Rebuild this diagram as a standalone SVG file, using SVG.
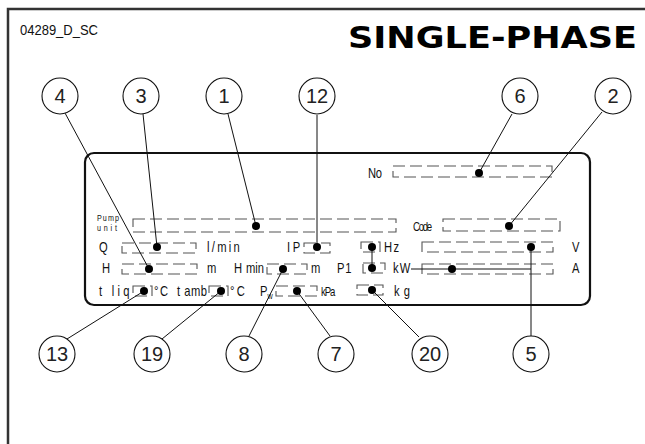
<svg xmlns="http://www.w3.org/2000/svg" width="645" height="444" viewBox="0 0 645 444">
<style>
.frame{fill:none;stroke:#333;stroke-width:2.5}
.plate{fill:none;stroke:#111;stroke-width:2.2}
.bub{fill:#fff;stroke:#111;stroke-width:1.1}
.num{font-family:"Liberation Sans",sans-serif;font-size:20px;text-anchor:middle;fill:#222}
.lbl{font-family:"Liberation Sans",sans-serif;font-size:14px;fill:#111}
.sm{font-size:9px}
.mid{font-size:12px}
.box{fill:none;stroke:#555;stroke-width:1.1;stroke-dasharray:12 5}
.lead{fill:none;stroke:#111;stroke-width:1}
.dot{fill:#000}
</style>
<path class="frame" d="M8,444 V9 H645"/>
<text x="20" y="35" textLength="78" lengthAdjust="spacingAndGlyphs" style="font-family:'Liberation Sans',sans-serif;font-size:14px;fill:#111">04289_D_SC</text>
<text x="637" y="48" text-anchor="end" textLength="289" lengthAdjust="spacingAndGlyphs" style="font-family:'DejaVu Sans',sans-serif;font-weight:bold;font-size:30px;fill:#000">SINGLE-PHASE</text>

<g id="plate">
<rect class="plate" x="85" y="153" width="505" height="152" rx="9"/>
</g>

<g id="fields">
<text class="lbl" transform="translate(368 178) scale(.8 1)" textLength="17.5">No</text>
<rect class="box" x="393" y="166" width="159" height="11"/>
<text class="lbl sm" transform="translate(97 221) scale(.8 1)" textLength="27.5">Pump</text>
<text class="lbl sm" transform="translate(97 231) scale(.8 1)" textLength="25">unit</text>
<rect class="box" x="133" y="219" width="263" height="13"/>
<text class="lbl mid" transform="translate(413 231) scale(.8 1)" textLength="24">Code</text>
<rect class="box" x="443" y="219" width="117" height="12"/>

<text class="lbl" transform="translate(99 252) scale(.8 1)">Q</text>
<rect class="box" x="122" y="243" width="74" height="10"/>
<text class="lbl" transform="translate(207 252) scale(.8 1)" textLength="41">l/min</text>
<text class="lbl" transform="translate(287 252) scale(.8 1)" textLength="16.5">IP</text>
<rect class="box" x="304" y="243" width="26" height="10"/>
<rect class="box" x="361" y="242" width="19" height="10"/>
<text class="lbl" transform="translate(384 252) scale(.8 1)" textLength="19">Hz</text>
<rect class="box" x="422" y="242" width="131" height="10"/>
<text class="lbl" transform="translate(572 252) scale(.8 1)">V</text>

<text class="lbl" transform="translate(102 273) scale(.8 1)">H</text>
<rect class="box" x="122" y="264" width="75" height="10"/>
<text class="lbl" transform="translate(207 273) scale(.8 1)">m</text>
<text class="lbl" transform="translate(234 273) scale(.8 1)" word-spacing="1">H min</text>
<rect class="box" x="267" y="264" width="40" height="10"/>
<text class="lbl" transform="translate(311 273) scale(.8 1)">m</text>
<text class="lbl" transform="translate(337 273) scale(.8 1)" textLength="18">P1</text>
<rect class="box" x="363" y="263" width="22" height="10"/>
<text class="lbl" transform="translate(393 273) scale(.8 1)" textLength="21.5">kW</text>
<rect class="box" x="422" y="264" width="131" height="10"/>
<text class="lbl" transform="translate(572 273) scale(.8 1)">A</text>

<text class="lbl" transform="translate(99 296) scale(.8 1)" textLength="38">t liq</text>
<rect class="box" x="133" y="286" width="19" height="10"/>
<text class="lbl" transform="translate(154 296) scale(.8 1)" textLength="17.5">°C</text>
<text class="lbl" transform="translate(177 296) scale(.8 1)" textLength="37.5">t amb</text>
<rect class="box" x="209" y="286" width="19" height="10"/>
<text class="lbl" transform="translate(230 296) scale(.8 1)" textLength="18.5">°C</text>
<text class="lbl" transform="translate(260 296) scale(.8 1)">P<tspan font-size="9" dy="2.5">w</tspan></text>
<rect class="box" x="276" y="286" width="41" height="10"/>
<text class="lbl mid" transform="translate(321 296) scale(.8 1)" textLength="18">kPa</text>
<rect class="box" x="357" y="285" width="26" height="10"/>
<text class="lbl" transform="translate(394 296) scale(.8 1)" textLength="20">kg</text>
</g>

<g id="connectors">
<path class="lead" d="M65,113 L149,269"/>
<path class="lead" d="M143,114 L157,247"/>
<path class="lead" d="M228,114 L256,226"/>
<path class="lead" d="M317,115 L317,247"/>
<path class="lead" d="M512,114 L479,173"/>
<path class="lead" d="M602,112 L509,226"/>
<path class="lead" d="M67,339 L144,291"/>
<path class="lead" d="M162,339 L221,291"/>
<path class="lead" d="M249,336 L283,269"/>
<path class="lead" d="M330,336 L297,291"/>
<path class="lead" d="M419,337 L372,290"/>
<path class="lead" d="M531,336 L531,247"/>
<path class="lead" d="M372,247 V268"/>
<path class="lead" d="M411,269 H531"/>
</g>
<g id="dots">
<circle class="dot" cx="149" cy="269" r="4"/>
<circle class="dot" cx="157" cy="247" r="4"/>
<circle class="dot" cx="256" cy="226" r="4"/>
<circle class="dot" cx="317" cy="247" r="4"/>
<circle class="dot" cx="479" cy="173" r="4"/>
<circle class="dot" cx="509" cy="226" r="4"/>
<circle class="dot" cx="144" cy="291" r="4"/>
<circle class="dot" cx="221" cy="291" r="4"/>
<circle class="dot" cx="283" cy="269" r="4"/>
<circle class="dot" cx="297" cy="291" r="4"/>
<circle class="dot" cx="372" cy="290" r="4"/>
<circle class="dot" cx="531" cy="247" r="4"/>
<circle class="dot" cx="372" cy="247" r="4"/>
<circle class="dot" cx="372" cy="268" r="4"/>
<circle class="dot" cx="452" cy="269" r="4"/>
</g>

<g id="n4"><circle class="bub" cx="60" cy="96" r="18"/><text class="num" x="60" y="103">4</text></g>
<g id="n3"><circle class="bub" cx="141" cy="96" r="18"/><text class="num" x="141" y="103">3</text></g>
<g id="n1"><circle class="bub" cx="224" cy="96" r="18"/><text class="num" x="224" y="103">1</text></g>
<g id="n12"><circle class="bub" cx="317" cy="96" r="18"/><text class="num" x="317" y="103">12</text></g>
<g id="n6"><circle class="bub" cx="520" cy="96" r="18"/><text class="num" x="520" y="103">6</text></g>
<g id="n2"><circle class="bub" cx="613" cy="96" r="18"/><text class="num" x="613" y="103">2</text></g>
<g id="n13"><circle class="bub" cx="57" cy="354" r="18"/><text class="num" x="57" y="361">13</text></g>
<g id="n19"><circle class="bub" cx="152" cy="354" r="18"/><text class="num" x="152" y="361">19</text></g>
<g id="n8"><circle class="bub" cx="244" cy="354" r="18"/><text class="num" x="244" y="361">8</text></g>
<g id="n7"><circle class="bub" cx="336" cy="354" r="18"/><text class="num" x="336" y="361">7</text></g>
<g id="n20"><circle class="bub" cx="430" cy="354" r="18"/><text class="num" x="430" y="361">20</text></g>
<g id="n5"><circle class="bub" cx="531" cy="354" r="18"/><text class="num" x="531" y="361">5</text></g>
</svg>
